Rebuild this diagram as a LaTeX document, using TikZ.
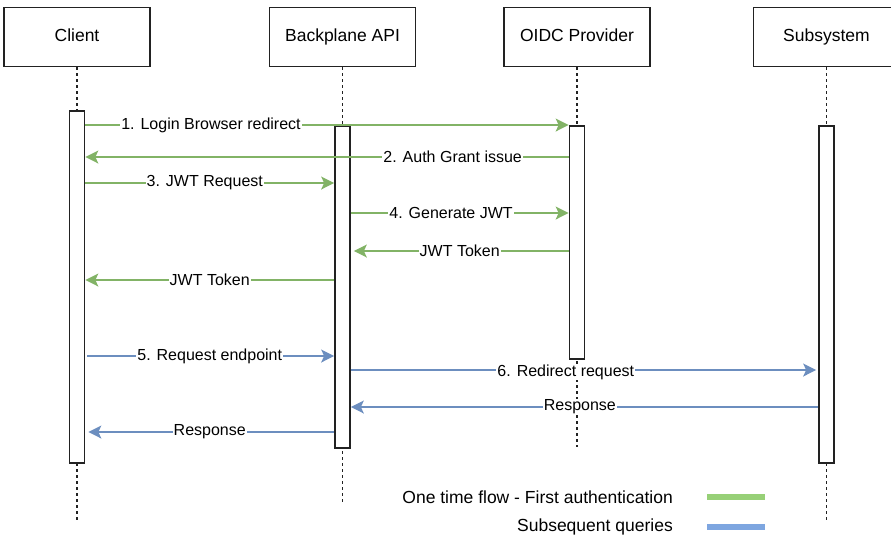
\documentclass[tikz,border=0pt]{standalone}
\usepackage{fontspec}
\setmainfont{Liberation Sans}
\usetikzlibrary{positioning,arrows.meta}
\definecolor{gline}{HTML}{82B366}
\definecolor{bline}{HTML}{6C8EBF}
\definecolor{gleg}{HTML}{97D077}
\definecolor{bleg}{HTML}{7EA6E0}
\definecolor{edge}{HTML}{222222}

\begin{document}
\begin{tikzpicture}[x=1pt,y=-1pt,node distance=118pt,
	actor/.style={draw=edge,line width=1.5pt,minimum width=146pt,minimum height=59pt,inner sep=0pt,text height=12.5pt,text depth=3.5pt,font=\fontsize{17.5}{20}\selectfont},
	bar/.style={draw=edge,line width=1.7pt,fill=white,minimum width=15pt,inner sep=0pt,anchor=north},
	life/.style={draw=edge,line width=1.5pt,dash pattern=on 3pt off 3pt},
	gmsg/.style={draw=gline,line width=1.4pt,-{Stealth[length=13pt,width=13pt,inset=3pt]}},
	bmsg/.style={draw=bline,line width=1.4pt,-{Stealth[length=13pt,width=13pt,inset=3pt]}},
	lbl/.style={fill=white,inner sep=1pt,text=black,font=\fontsize{16}{18}\selectfont},
	legbar/.style={minimum width=58pt,minimum height=6pt,inner sep=0pt}]

\useasboundingbox (0,0) rectangle (891,539);

\node[actor](client) at (77,37){Client};
\node[actor](api)[right=118pt of client]{Backplane API};
\node[actor](oidc)[right=87pt of api]{OIDC Provider};
\node[actor](sub)[right=102pt of oidc]{Subsystem};

\coordinate(cend) at (client |- 0,520);
\coordinate(aend) at (api |- 0,502);
\coordinate(oend) at (oidc |- 0,447);
\coordinate(send) at (sub |- 0,520);

\draw[life](client.south)--(cend);
\draw[life](api.south)--(aend);
\draw[life](oidc.south)--(oend);
\draw[life](sub.south)--(send);

\node[bar,minimum height=352pt](cbar) at (client |- 0,110){};
\node[bar,minimum height=322pt](abar) at (api |- 0,125){};
\node[bar,minimum height=233pt](obar) at (oidc |- 0,125){};
\node[bar,minimum height=337pt](sbar) at (sub |- 0,125){};

% first authentication
\draw[gmsg](cbar.east |- 0,125)--node[lbl,pos=0.26]{1. Login Browser redirect}(obar.west |- 0,125);
\draw[gmsg](obar.west |- 0,157)--node[lbl,pos=0.24]{2. Auth Grant issue}(cbar.east |- 0,157);
\draw[gmsg](cbar.east |- 0,183)--node[lbl,pos=0.48]{3. JWT Request}(abar.west |- 0,183);
\draw[gmsg](abar.east |- 0,213)--node[lbl,pos=0.46]{4. Generate JWT}(obar.west |- 0,213);
\draw[gmsg,shorten >=3pt](obar.west |- 0,251)--node[lbl,pos=0.5]{JWT Token}(abar.east |- 0,251);
\draw[gmsg](abar.west |- 0,280)--node[lbl,pos=0.5]{JWT Token}(cbar.east |- 0,280);

% subsequent queries
\draw[bmsg,shorten <=2pt](cbar.east |- 0,356)--node[lbl,pos=0.5]{5. Request endpoint}(abar.west |- 0,356);
\draw[bmsg,shorten >=2pt](abar.east |- 0,370)--node[lbl,pos=0.46,yshift=-2pt]{6. Redirect request}(sbar.west |- 0,370);
\draw[bmsg](sbar.west |- 0,407)--node[lbl,pos=0.51]{Response}(abar.east |- 0,407);
\draw[bmsg,shorten >=3pt](abar.west |- 0,432)--node[lbl,pos=0.5]{Response}(cbar.east |- 0,432);

% legend
\node[inner sep=0pt,anchor=east,font=\fontsize{17.5}{20}\selectfont](leg1) at (673,497){One time flow - First authentication};
\node[inner sep=0pt,anchor=east,font=\fontsize{17.5}{20}\selectfont](leg2) at (673,527){Subsequent queries};
\node[legbar,fill=gleg,right=34pt of leg1.east,anchor=west](gbar){};
\node[legbar,fill=bleg,right=34pt of leg2.east,anchor=west](bbar){};

\end{tikzpicture}
\end{document}
